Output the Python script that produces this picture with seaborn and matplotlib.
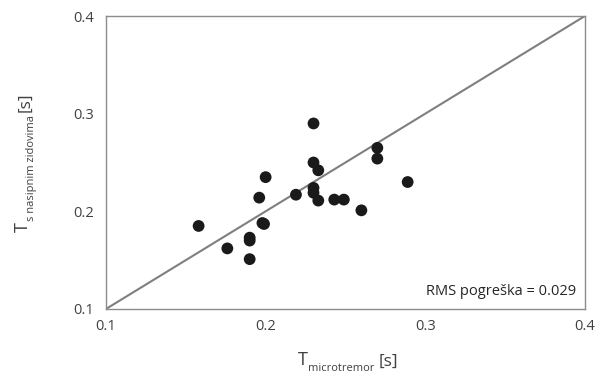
import numpy as np
import pandas as pd
import seaborn as sns
import matplotlib.pyplot as plt

# measured periods [s]
t_micro = [0.230, 0.270, 0.270, 0.230, 0.233, 0.200, 0.289, 0.230, 0.230, 0.219, 0.196,
           0.233, 0.243, 0.249, 0.260, 0.158, 0.198, 0.199, 0.190, 0.190, 0.176, 0.190]
t_nasip = [0.290, 0.265, 0.254, 0.250, 0.242, 0.235, 0.230, 0.224, 0.219, 0.217, 0.214,
           0.211, 0.212, 0.212, 0.201, 0.185, 0.188, 0.187, 0.173, 0.170, 0.162, 0.151]
line_x = [0.1, 0.4]
ticks = [0.1, 0.2, 0.3, 0.4]
rms_text = "RMS pogreška = 0.029"
xlabel_parts = ["T", "microtremor", "[s]"]
ylabel_parts = ["T", "s nasipnim zidovima", "[s]"]

sns.set_style("white")
plt.rcParams['font.family'] = ['Open Sans', 'DejaVu Sans']

df = pd.DataFrame({"x": t_micro, "y": t_nasip})

W, H = 613, 374
fig = plt.figure(figsize=(W / 100, H / 100), dpi=100)
ax = fig.add_axes([0.173, 0.174, 0.781, 0.783])

sns.lineplot(x=line_x, y=line_x, ax=ax, color="#7f7f7f", linewidth=1.5)
sns.scatterplot(data=df, x="x", y="y", ax=ax, color="#1a1a1a", s=72,
                edgecolor="none", zorder=3)

ax.set_xlim(0.1, 0.4)
ax.set_ylim(0.1, 0.4)
ax.set_xticks(ticks)
ax.set_yticks(ticks)
ax.set_xticklabels([f"{t:.1f}" for t in ticks])
ax.set_yticklabels([f"{t:.1f}" for t in ticks])
ax.tick_params(labelsize=10.5, colors="#404040", length=0)
ax.tick_params(axis="x", pad=7)
ax.tick_params(axis="y", pad=9)
ax.set_xlabel("")
ax.set_ylabel("")

for sp in ax.spines.values():
    sp.set_color("#8c8c8c")
    sp.set_linewidth(1)

ax.text(0.981, 0.058, rms_text, transform=ax.transAxes, ha="right", va="center",
        fontsize=10.5, color="#262626")

# labels with small subscripts, put together piece by piece (pixel units)
renderer = fig.canvas.get_renderer()
sizes = [13, 8, 12.5]
shifts = [0, -6, -1]
gaps = [0, 0.5, 3.5]


def text_width(s, size):
    t = fig.text(0, 0, s, fontsize=size)
    w = t.get_window_extent(renderer).width
    t.remove()
    return w


def rich_label(parts, centre, base, vertical=False):
    widths = [text_width(p, sz) for p, sz in zip(parts, sizes)]
    total = sum(widths) + sum(gaps)
    pos = centre - total / 2
    for p, sz, sh, g, w in zip(parts, sizes, shifts, gaps, widths):
        pos += g
        if vertical:
            fig.text((base - sh) / W, pos / H, p, fontsize=sz, color="#404040",
                     rotation=90, rotation_mode="anchor", ha="left", va="baseline")
        else:
            fig.text(pos / W, (base + sh) / H, p, fontsize=sz, color="#404040",
                     ha="left", va="baseline")
        pos += w


rich_label(xlabel_parts, centre=348, base=H - 365)
rich_label(ylabel_parts, centre=H - 162, base=28, vertical=True)

fig.savefig("out.png", dpi=100)
